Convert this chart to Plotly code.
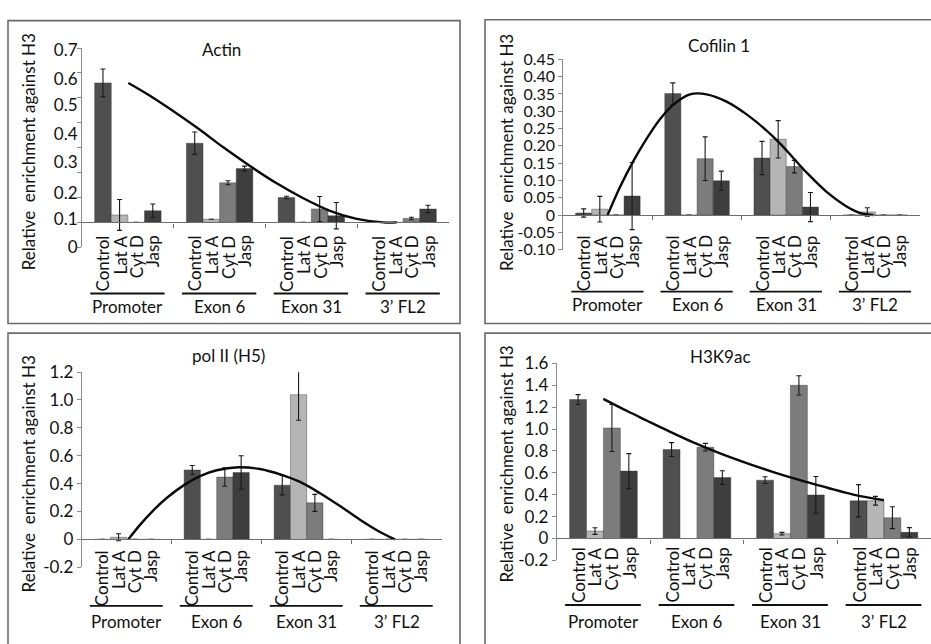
import plotly.graph_objects as go

W, H = 931, 644
FONT = "Lato"
TXT = "#111111"

groups = ["Promoter", "Exon 6", "Exon 31", "3\u2019 FL2"]
treatments = ["Control", "Lat A", "Cyt D", "Jasp"]
bar_colors = ["#4f4f4f", "#b5b5b5", "#7c7c7c", "#3e3e3e"]

# ---------------- Actin ----------------
actin_control = [0.560, 0.318, 0.100, 0.0]
actin_lata = [0.030, 0.013, 0.0, 0.0]
actin_cytd = [0.0, 0.159, 0.054, 0.016]
actin_jasp = [0.047, 0.216, 0.027, 0.054]
actin_control_err = [0.056, 0.045, 0.005, None]
actin_lata_err = [0.062, None, None, None]
actin_cytd_err = [0.0, 0.008, 0.050, 0.005]
actin_jasp_err = [0.027, 0.010, 0.053, 0.015]
actin_curve_x = [0.005, 0.241, 0.732, 1.04, 1.331, 1.622, 1.912, 2.203, 2.494, 2.784, 2.93]
actin_curve_y = [0.560, 0.5085, 0.386, 0.3015, 0.2265, 0.157, 0.097, 0.0467, 0.0144, 0.0, 0.0]
actin_tick_pos = [-0.1, 0.0, 0.1, 0.2, 0.3, 0.4, 0.5, 0.6, 0.7]
actin_label_pos = [-0.1, 0.014, 0.118, 0.243, 0.353, 0.472, 0.576, 0.69]
actin_label_text = ["0", "0.1", "0.2", "0.3", "0.4", "0.5", "0.6", "0.7"]

# ---------------- Cofilin 1 ----------------
cof_control = [0.006, 0.351, 0.165, 0.0]
cof_lata = [0.017, 0.0, 0.219, 0.009]
cof_cytd = [0.0, 0.163, 0.140, 0.0]
cof_jasp = [0.055, 0.099, 0.023, 0.0]
cof_control_err = [0.012, 0.031, 0.048, 0.0]
cof_lata_err = [0.037, None, 0.054, 0.012]
cof_cytd_err = [0.0, 0.063, 0.018, 0.0]
cof_jasp_err = [0.097, 0.028, 0.042, 0.0]
cof_curve_x = [-0.003, 0.136, 0.285, 0.435, 0.584, 0.734, 0.883, 0.958, 1.107, 1.331, 1.556,
               1.78, 1.929, 2.079, 2.228, 2.453, 2.677, 2.826, 2.976]
cof_curve_y = [0.0, 0.081, 0.156, 0.221, 0.277, 0.319, 0.345, 0.351, 0.349, 0.328, 0.291,
               0.244, 0.207, 0.165, 0.123, 0.067, 0.025, 0.0065, 0.0]
cof_tick_pos = [-0.10, -0.05, 0, 0.05, 0.10, 0.15, 0.20, 0.25, 0.30, 0.35, 0.40, 0.45]
cof_tick_text = ["-0.10", "-0.05", "0", "0.05", "0.10", "0.15", "0.20", "0.25", "0.30",
                 "0.35", "0.40", "0.45"]

# ---------------- pol II (H5) ----------------
pol_control = [0.0, 0.498, 0.389, 0.0]
pol_lata = [0.015, 0.0, 1.038, 0.0]
pol_cytd = [0.0, 0.447, 0.262, 0.0]
pol_jasp = [0.0, 0.480, 0.0, 0.0]
pol_control_err = [0.0, 0.032, 0.070, 0.0]
pol_lata_err = [0.025, None, 0.183, None]
pol_cytd_err = [0.0, 0.066, 0.061, 0.0]
pol_jasp_err = [0.0, 0.120, 0.0, 0.0]
pol_curve_x = [0.018, 0.148, 0.296, 0.444, 0.640, 0.814, 1.0, 1.24, 1.481, 1.722, 1.926,
               2.148, 2.370, 2.592, 2.814, 2.981]
pol_curve_y = [0.0, 0.104, 0.208, 0.2965, 0.391, 0.454, 0.496, 0.517, 0.505, 0.463, 0.412,
               0.331, 0.239, 0.141, 0.053, 0.0]
pol_tick_pos = [-0.2, 0, 0.2, 0.4, 0.6, 0.8, 1.0, 1.2]
pol_tick_text = ["-0.2", "0", "0.2", "0.4", "0.6", "0.8", "1.0", "1.2"]

# ---------------- H3K9ac ----------------
h3_control = [1.27, 0.813, 0.533, 0.345]
h3_lata = [0.068, 0.0, 0.044, 0.345]
h3_cytd = [1.01, 0.834, 1.40, 0.19]
h3_jasp = [0.616, 0.557, 0.398, 0.056]
h3_control_err = [0.045, 0.063, 0.031, 0.147]
h3_lata_err = [0.030, 0.0, 0.012, 0.040]
h3_cytd_err = [0.215, 0.035, 0.088, 0.100]
h3_jasp_err = [0.160, 0.062, 0.168, 0.043]
h3_curve_x = [-0.002, 0.248, 0.462, 0.676, 0.961, 1.247, 1.532, 1.817, 2.102, 2.387, 2.673, 3.0]
h3_curve_y = [1.276, 1.167, 1.078, 0.99, 0.878, 0.778, 0.689, 0.607, 0.533, 0.466, 0.401, 0.351]
h3_tick_pos = [-0.2, 0, 0.2, 0.4, 0.6, 0.8, 1.0, 1.2, 1.4, 1.6]
h3_tick_text = ["-0.2", "0", "0.2", "0.4", "0.6", "0.8", "1.0", "1.2", "1.4", "1.6"]

BARGAP = 0.276

panels = [
    dict(title="Actin", title_xy=(221, 40),
         vals=[actin_control, actin_lata, actin_cytd, actin_jasp],
         errs=[actin_control_err, actin_lata_err, actin_cytd_err, actin_jasp_err],
         cx=actin_curve_x, cy=actin_curve_y,
         x0=82, x1=449, ytop=38.3, ybot=244.3, yr=[-0.1, 0.7],
         tickpos=actin_label_pos, ticktext=actin_label_text, minor=actin_tick_pos,
         tick_size=17,
         ytitle_xy=(28, 146), sub_top=230, line_y=292, glabel_y=305,
         box=(8, 10, 460, 323)),
    dict(title="Cofilin 1", title_xy=(719, 36),
         vals=[cof_control, cof_lata, cof_cytd, cof_jasp],
         errs=[cof_control_err, cof_lata_err, cof_cytd_err, cof_jasp_err],
         cx=cof_curve_x, cy=cof_curve_y,
         x0=563.3, x1=920, ytop=50, ybot=246.7, yr=[-0.1, 0.45],
         tickpos=cof_tick_pos, ticktext=cof_tick_text, minor=None,
         tick_size=16,
         ytitle_xy=(506.7, 146), sub_top=230, line_y=290, glabel_y=303,
         box=(485, 9, 940, 323)),
    dict(title="pol II (H5)", title_xy=(228, 356),
         vals=[pol_control, pol_lata, pol_cytd, pol_jasp],
         errs=[pol_control_err, pol_lata_err, pol_cytd_err, pol_jasp_err],
         cx=pol_curve_x, cy=pol_curve_y,
         x0=81.7, x1=441.7, ytop=373.3, ybot=575, yr=[-0.2, 1.2],
         tickpos=pol_tick_pos, ticktext=pol_tick_text, minor=None,
         tick_size=17,
         ytitle_xy=(28, 479), sub_top=555, line_y=615, glabel_y=631,
         box=(8, 333, 460, 660)),
    dict(title="H3K9ac", title_xy=(720, 357),
         vals=[h3_control, h3_lata, h3_cytd, h3_jasp],
         errs=[h3_control_err, h3_lata_err, h3_cytd_err, h3_jasp_err],
         cx=h3_curve_x, cy=h3_curve_y,
         x0=556.7, x1=930.7, ytop=364.3, ybot=567.9, yr=[-0.2, 1.6],
         tickpos=h3_tick_pos, ticktext=h3_tick_text, minor=None,
         tick_size=17,
         ytitle_xy=(506.7, 468), sub_top=552, line_y=614, glabel_y=631,
         box=(485, 333, 940, 660)),
]


def px(x):
    return x / W


def py(y):
    return 1 - y / H


fig = go.Figure()
annotations = []
shapes = []
layout = {}
gx = list(range(len(groups)))
bw = (1 - BARGAP) / len(treatments)

for i, p in enumerate(panels, start=1):
    xa = "x" if i == 1 else f"x{i}"
    ya = "y" if i == 1 else f"y{i}"
    xkey = "xaxis" if i == 1 else f"xaxis{i}"
    ykey = "yaxis" if i == 1 else f"yaxis{i}"

    for t, name in enumerate(treatments):
        errs = [e if e is not None else float("nan") for e in p["errs"][t]]
        fig.add_trace(go.Bar(
            x=gx, y=p["vals"][t], name=name, xaxis=xa, yaxis=ya,
            marker=dict(color=bar_colors[t], line=dict(color="#333333", width=0.4)),
            error_y=dict(type="data", array=errs, visible=True, color="#1a1a1a",
                         thickness=1.1, width=2.5),
            showlegend=False, hoverinfo="skip"))
    fig.add_trace(go.Scatter(
        x=p["cx"], y=p["cy"], mode="lines", xaxis=xa, yaxis=ya,
        line=dict(color="#0a0a0a", width=2.4, shape="spline", smoothing=1.0),
        showlegend=False, hoverinfo="skip"))

    ydom = [py(p["ybot"]), py(p["ytop"])]
    y0, y1 = p["yr"]
    base_pos = ydom[0] + (0 - y0) / (y1 - y0) * (ydom[1] - ydom[0])

    layout[xkey] = dict(
        domain=[px(p["x0"]), px(p["x1"])], range=[-0.5, 3.5], anchor="free",
        position=base_pos, showline=True, linecolor="#6e6e6e", linewidth=1.2,
        tickmode="array", tickvals=[0.5, 1.5, 2.5], ticks="outside", ticklen=4,
        tickcolor="#6e6e6e", showticklabels=False, showgrid=False, zeroline=False,
        fixedrange=True)
    ydict = dict(
        domain=ydom, range=p["yr"], anchor=xa, showline=True, linecolor="#8a8a8a",
        linewidth=1.1, tickmode="array", tickvals=p["tickpos"], ticktext=p["ticktext"],
        tickfont=dict(family=FONT, size=p["tick_size"], color=TXT), showgrid=False,
        zeroline=False, fixedrange=True)
    if p["minor"] is not None:
        ydict.update(ticks="", minor=dict(tickmode="array", tickvals=p["minor"],
                                          ticks="outside", ticklen=4, tickcolor="#8a8a8a"))
    else:
        ydict.update(ticks="outside", ticklen=4, tickcolor="#8a8a8a")
    layout[ykey] = ydict

    # panel frame
    bx0, by0, bx1, by1 = p["box"]
    shapes.append(dict(type="rect", xref="paper", yref="paper", x0=px(bx0), x1=px(bx1),
                       y0=py(by1), y1=py(by0), line=dict(color="#6a6a6a", width=1.6)))

    # title
    annotations.append(dict(text=p["title"], xref="paper", yref="paper",
                            x=px(p["title_xy"][0]), y=py(p["title_xy"][1]),
                            xanchor="center", yanchor="middle", showarrow=False,
                            font=dict(family=FONT, size=17, color=TXT)))
    # y title
    annotations.append(dict(text="Relative  enrichment against H3", xref="paper", yref="paper",
                            x=px(p["ytitle_xy"][0]), y=py(p["ytitle_xy"][1]),
                            xanchor="center", yanchor="middle", textangle=-90,
                            showarrow=False, font=dict(family=FONT, size=17, color=TXT)))
    # treatment labels and group labels
    for g, gname in enumerate(groups):
        for t, name in enumerate(treatments):
            annotations.append(dict(
                text=name, xref=xa, yref="paper",
                x=g + (t - 1.5) * bw, y=py(p["sub_top"]),
                xanchor="center", yanchor="top", textangle=-90, showarrow=False,
                font=dict(family=FONT, size=17, color=TXT)))
        shapes.append(dict(type="line", xref=xa, yref="paper", x0=g - 0.41, x1=g + 0.40,
                           y0=py(p["line_y"]), y1=py(p["line_y"]),
                           line=dict(color="#111111", width=1.8)))
        annotations.append(dict(text=gname, xref=xa, yref="paper", x=g, y=py(p["glabel_y"]),
                                xanchor="center", yanchor="middle", showarrow=False,
                                font=dict(family=FONT, size=17, color=TXT)))

fig.update_layout(
    width=W, height=H, margin=dict(l=0, r=0, t=0, b=0),
    paper_bgcolor="white", plot_bgcolor="white",
    barmode="group", bargap=BARGAP, bargroupgap=0,
    annotations=annotations, shapes=shapes, showlegend=False,
    **layout)

fig.write_html("out.html", config={"displayModeBar": False})
